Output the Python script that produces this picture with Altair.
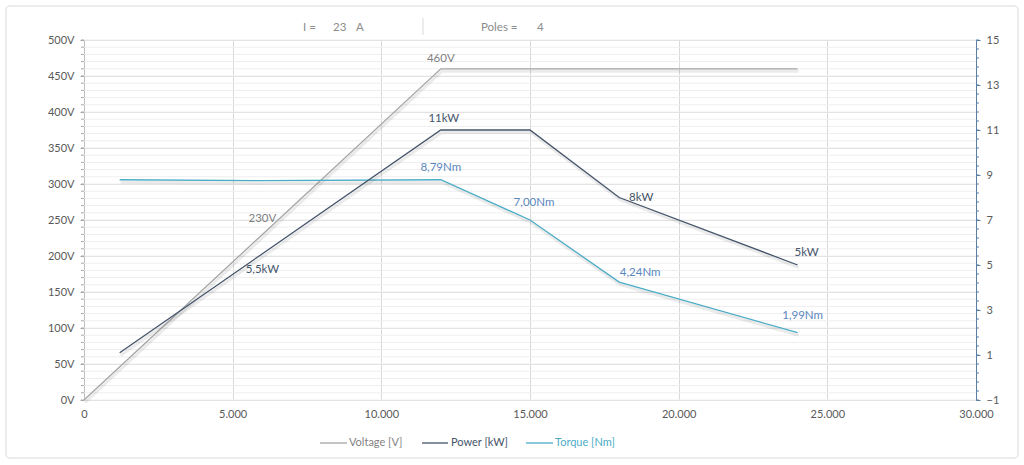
import altair as alt
import pandas as pd

FONT = "Lato"

# ---------------- data ----------------
speed_v = [0, 6000, 12000, 24000]
voltage = [0, 230, 460, 460]

speed_p = [1200, 6000, 12000, 15000, 18000, 24000]
power = [1.1, 5.5, 11, 11, 8, 5]
torque = [8.79, 8.75, 8.79, 7.00, 4.24, 1.99]

v_lab_speed = [6000, 12000]
v_lab_val = [230, 460]
v_lab_text = ["230V", "460V"]

p_lab_speed = [6000, 12000, 18000, 24000]
p_lab_val = [5.5, 11, 8, 5]
p_lab_text = ["5,5kW", "11kW", "8kW", "5kW"]

t_lab_speed = [12000, 15000, 18000, 24000]
t_lab_val = [8.79, 7.00, 4.24, 1.99]
t_lab_text = ["8,79Nm", "7,00Nm", "4,24Nm", "1,99Nm"]

x_ticks = [0, 5000, 10000, 15000, 20000, 25000, 30000]
left_ticks = [0, 50, 100, 150, 200, 250, 300, 350, 400, 450, 500]
left_minor = list(range(0, 501, 10))
right_ticks = [-1, 1, 3, 5, 7, 9, 11, 13, 15]
right_minor = [round(-1 + 0.4 * k, 2) for k in range(41)]

# label offsets (styling, separate from data)
v_off = [(0, -15), (0, -10)]
p_off = [(0, 16), (3, -11), (22, 0), (9, -12)]
t_off = [(0, -12), (4, -17), (21, -9), (5, -17)]

# ---------------- colours ----------------
C_V = "#a5a5a5"
C_V_TXT = "#7f7f7f"
C_P = "#44546a"
C_T = "#4bacc6"
C_T_TXT = "#5b87bd"
C_AX = "#595959"
C_GRID = "#d9d9d9"
C_MINOR = "#eeeeee"
C_RAX = "#5b7fa6"

W, H = 892, 360
LFS = 11

df_v = pd.DataFrame({"speed": speed_v, "value": voltage})
df_p = pd.DataFrame({"speed": speed_p, "value": power})
df_t = pd.DataFrame({"speed": speed_p, "value": torque})
one = pd.DataFrame({"a": [0]})

xscale = alt.Scale(domain=[0, 30000], nice=False)
x_axis = alt.Axis(values=x_ticks, grid=True, gridColor=C_GRID, ticks=False,
                  domain=False, labelOverlap=False, labelFlush=False,
                  labelExpr="replace(format(datum.value, ','), /,/g, '.')",
                  labelFont=FONT, labelFontSize=LFS, labelColor=C_AX,
                  labelPadding=8, title=None)
yl_scale = alt.Scale(domain=[0, 500], nice=False)
yr_scale = alt.Scale(domain=[-1, 15], nice=False)

left_axis = alt.Axis(values=left_ticks, grid=True, gridColor=C_GRID,
                     tickColor="#a6a6a6", tickSize=4, domainColor="#bfbfbf",
                     labelOverlap=False, labelFlush=False,
                     labelExpr="datum.value + 'V'", labelFont=FONT,
                     labelFontSize=LFS, labelColor=C_AX, labelPadding=6,
                     title=None, orient="left")
right_axis = alt.Axis(values=right_ticks, grid=False, orient="right",
                      tickColor=C_RAX, tickSize=4, domainColor=C_RAX,
                      labelOverlap=False, labelFlush=False,
                      labelFont=FONT, labelFontSize=LFS, labelColor=C_AX,
                      labelPadding=6, title=None)

X = alt.X("speed:Q", scale=xscale, axis=x_axis)
YL = alt.Y("value:Q", scale=yl_scale, axis=left_axis)
YR = alt.Y("value:Q", scale=yr_scale, axis=right_axis)

# ---------------- left group (voltage) ----------------
minor_grid = alt.Chart(pd.DataFrame({"value": left_minor})).mark_rule(
    color=C_MINOR, strokeWidth=1).encode(
    y=YL, x=alt.value(0), x2=alt.value(W))

left_minor_ticks = alt.Chart(pd.DataFrame({"value": left_minor})).mark_rule(
    color="#a6a6a6").encode(
    y=YL, x=alt.value(-3), x2=alt.value(0))

def line_layers(df, color, width, Y):
    shadow = alt.Chart(df).mark_line(color="#000000", opacity=0.08, strokeWidth=3,
                                     xOffset=1, yOffset=2.5).encode(x=X, y=Y)
    line = alt.Chart(df).mark_line(color=color, strokeWidth=width).encode(x=X, y=Y)
    return [shadow, line]

def label_layers(speeds, vals, texts, offs, color, Y):
    out = []
    for s, v, t, (dx, dy) in zip(speeds, vals, texts, offs):
        d = pd.DataFrame({"speed": [s], "value": [v], "label": [t]})
        out.append(alt.Chart(d).mark_text(
            dx=dx, dy=dy, color=color, font=FONT, fontSize=11.5,
            align="center", baseline="middle").encode(
            x=X, y=Y, text="label:N"))
    return out

left = alt.layer(
    minor_grid, left_minor_ticks,
    *line_layers(df_v, C_V, 1.3, YL),
    *label_layers(v_lab_speed, v_lab_val, v_lab_text, v_off, C_V_TXT, YL),
)

# ---------------- right group (power, torque) ----------------
right_axis_layer = alt.Chart(pd.DataFrame({"value": right_minor})).mark_rule(
    color=C_RAX).encode(
    y=YR, x=alt.value(W), x2=alt.value(W + 3))

right = alt.layer(
    right_axis_layer,
    *line_layers(df_t, C_T, 1.3, YR),
    *line_layers(df_p, C_P, 1.3, YR),
    *label_layers(p_lab_speed, p_lab_val, p_lab_text, p_off, C_P, YR),
    *label_layers(t_lab_speed, t_lab_val, t_lab_text, t_off, C_T_TXT, YR),
)

# ---------------- decorations ----------------
def deco_text(txt, x, y, color, align="left", size=11.5):
    return alt.Chart(one).mark_text(text=txt, align=align, baseline="middle",
                                    color=color, font=FONT, fontSize=size).encode(
        x=alt.value(x), y=alt.value(y))

def deco_rule(x1, x2, y1, y2, color, width=1):
    return alt.Chart(one).mark_rule(color=color, strokeWidth=width).encode(
        x=alt.value(x1), x2=alt.value(x2), y=alt.value(y1), y2=alt.value(y2))

border = alt.Chart(one).mark_rect(fillOpacity=0, stroke="#d9d9d9", strokeWidth=1,
                                  cornerRadius=3).encode(
    x=alt.value(-78), x2=alt.value(934), y=alt.value(-34), y2=alt.value(418))

header = [
    deco_text("I =", 219, -12, "#8c8c8c"),
    deco_text("23", 249, -12, "#8c8c8c"),
    deco_text("A", 272, -12, "#8c8c8c"),
    deco_rule(339, 339, -22, -5, "#d9d9d9"),
    deco_text("Poles =", 397, -12, "#8c8c8c"),
    deco_text("4", 453, -12, "#8c8c8c"),
]

legend = [
    deco_rule(236, 263, 403, 403, C_V, 1.3),
    deco_text("Voltage [V]", 265, 403, C_V_TXT, size=11),
    deco_rule(338, 364, 403, 403, C_P, 1.3),
    deco_text("Power [kW]", 367, 403, C_P, size=11),
    deco_rule(442, 469, 403, 403, C_T, 1.3),
    deco_text("Torque [Nm]", 471, 403, C_T, size=11),
]

deco = alt.layer(border, *header, *legend)

chart = alt.layer(left, right, deco).resolve_scale(y="independent").properties(
    width=W, height=H,
    padding={"left": 84, "top": 40, "right": 48, "bottom": 65},
    autosize=alt.AutoSizeParams(type="none"),
    background="white",
).configure_view(strokeWidth=0)

chart.save("out.html", embed_options={"renderer": "svg", "actions": False})
